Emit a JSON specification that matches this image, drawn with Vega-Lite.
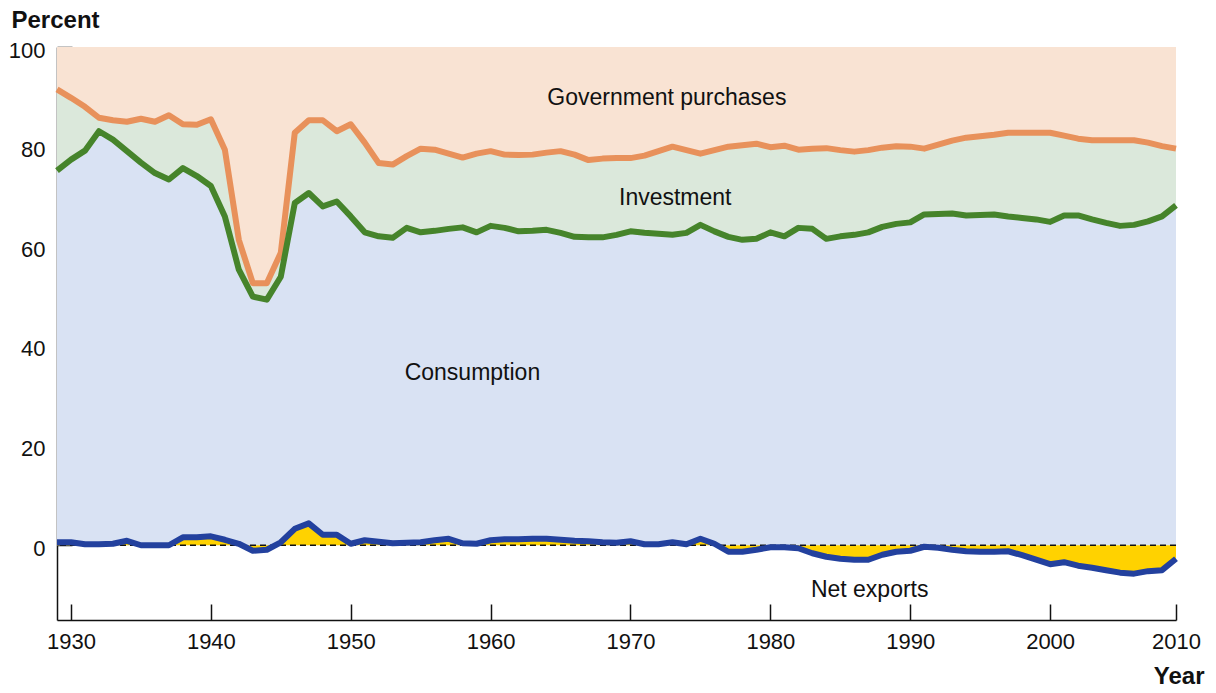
{
  "$schema": "https://vega.github.io/schema/vega-lite/v6.json",
  "width": 1119,
  "height": 573,
  "autosize": {"type": "none"},
  "padding": {"left": 57, "top": 47, "right": 40, "bottom": 73},
  "background": "white",
  "config": {"view": {"stroke": null}, "font": "Liberation Sans"},
  "datasets": {
    "shares": [
      {"Year":1929,"NX":0.6,"CNX":75.2,"CINX":91.5},
      {"Year":1930,"NX":0.6,"CNX":77.4,"CINX":89.8},
      {"Year":1931,"NX":0.2,"CNX":79.2,"CINX":88.0},
      {"Year":1932,"NX":0.2,"CNX":83.1,"CINX":85.8},
      {"Year":1933,"NX":0.3,"CNX":81.4,"CINX":85.3},
      {"Year":1934,"NX":0.9,"CNX":79.1,"CINX":85.0},
      {"Year":1935,"NX":0.0,"CNX":76.8,"CINX":85.6},
      {"Year":1936,"NX":0.0,"CNX":74.7,"CINX":85.0},
      {"Year":1937,"NX":0.0,"CNX":73.4,"CINX":86.3},
      {"Year":1938,"NX":1.6,"CNX":75.7,"CINX":84.5},
      {"Year":1939,"NX":1.6,"CNX":74.1,"CINX":84.4},
      {"Year":1940,"NX":1.8,"CNX":72.1,"CINX":85.5},
      {"Year":1941,"NX":1.1,"CNX":66.0,"CINX":79.4},
      {"Year":1942,"NX":0.3,"CNX":55.3,"CINX":61.3},
      {"Year":1943,"NX":-1.1,"CNX":49.9,"CINX":52.6},
      {"Year":1944,"NX":-0.9,"CNX":49.3,"CINX":52.6},
      {"Year":1945,"NX":0.6,"CNX":53.9,"CINX":58.7},
      {"Year":1946,"NX":3.3,"CNX":68.7,"CINX":82.8},
      {"Year":1947,"NX":4.4,"CNX":70.7,"CINX":85.3},
      {"Year":1948,"NX":2.1,"CNX":68.0,"CINX":85.3},
      {"Year":1949,"NX":2.1,"CNX":69.0,"CINX":83.1},
      {"Year":1950,"NX":0.3,"CNX":66.0,"CINX":84.5},
      {"Year":1951,"NX":1.0,"CNX":62.8,"CINX":80.8},
      {"Year":1952,"NX":0.7,"CNX":62.0,"CINX":76.7},
      {"Year":1953,"NX":0.4,"CNX":61.7,"CINX":76.4},
      {"Year":1954,"NX":0.5,"CNX":63.7,"CINX":78.1},
      {"Year":1955,"NX":0.6,"CNX":62.8,"CINX":79.6},
      {"Year":1956,"NX":1.0,"CNX":63.1,"CINX":79.4},
      {"Year":1957,"NX":1.3,"CNX":63.5,"CINX":78.6},
      {"Year":1958,"NX":0.4,"CNX":63.8,"CINX":77.8},
      {"Year":1959,"NX":0.3,"CNX":62.8,"CINX":78.6},
      {"Year":1960,"NX":1.0,"CNX":64.1,"CINX":79.1},
      {"Year":1961,"NX":1.2,"CNX":63.7,"CINX":78.4},
      {"Year":1962,"NX":1.2,"CNX":63.0,"CINX":78.3},
      {"Year":1963,"NX":1.3,"CNX":63.1,"CINX":78.4},
      {"Year":1964,"NX":1.3,"CNX":63.3,"CINX":78.8},
      {"Year":1965,"NX":1.1,"CNX":62.7,"CINX":79.1},
      {"Year":1966,"NX":0.9,"CNX":61.9,"CINX":78.4},
      {"Year":1967,"NX":0.8,"CNX":61.8,"CINX":77.3},
      {"Year":1968,"NX":0.6,"CNX":61.8,"CINX":77.6},
      {"Year":1969,"NX":0.5,"CNX":62.3,"CINX":77.7},
      {"Year":1970,"NX":0.8,"CNX":63.0,"CINX":77.7},
      {"Year":1971,"NX":0.2,"CNX":62.7,"CINX":78.2},
      {"Year":1972,"NX":0.2,"CNX":62.5,"CINX":79.1},
      {"Year":1973,"NX":0.6,"CNX":62.3,"CINX":80.0},
      {"Year":1974,"NX":0.2,"CNX":62.7,"CINX":79.3},
      {"Year":1975,"NX":1.3,"CNX":64.3,"CINX":78.6},
      {"Year":1976,"NX":0.3,"CNX":63.0,"CINX":79.3},
      {"Year":1977,"NX":-1.3,"CNX":61.9,"CINX":80.0},
      {"Year":1978,"NX":-1.3,"CNX":61.3,"CINX":80.3},
      {"Year":1979,"NX":-0.9,"CNX":61.5,"CINX":80.6},
      {"Year":1980,"NX":-0.4,"CNX":62.8,"CINX":79.9},
      {"Year":1981,"NX":-0.4,"CNX":62.0,"CINX":80.2},
      {"Year":1982,"NX":-0.6,"CNX":63.7,"CINX":79.4},
      {"Year":1983,"NX":-1.6,"CNX":63.5,"CINX":79.6},
      {"Year":1984,"NX":-2.3,"CNX":61.5,"CINX":79.7},
      {"Year":1985,"NX":-2.7,"CNX":62.0,"CINX":79.3},
      {"Year":1986,"NX":-2.9,"CNX":62.3,"CINX":79.0},
      {"Year":1987,"NX":-2.9,"CNX":62.8,"CINX":79.3},
      {"Year":1988,"NX":-1.9,"CNX":63.9,"CINX":79.8},
      {"Year":1989,"NX":-1.3,"CNX":64.5,"CINX":80.1},
      {"Year":1990,"NX":-1.1,"CNX":64.8,"CINX":80.0},
      {"Year":1991,"NX":-0.3,"CNX":66.4,"CINX":79.6},
      {"Year":1992,"NX":-0.5,"CNX":66.5,"CINX":80.4},
      {"Year":1993,"NX":-0.9,"CNX":66.6,"CINX":81.2},
      {"Year":1994,"NX":-1.2,"CNX":66.2,"CINX":81.8},
      {"Year":1995,"NX":-1.3,"CNX":66.3,"CINX":82.1},
      {"Year":1996,"NX":-1.3,"CNX":66.4,"CINX":82.4},
      {"Year":1997,"NX":-1.2,"CNX":66.0,"CINX":82.8},
      {"Year":1998,"NX":-2.0,"CNX":65.7,"CINX":82.8},
      {"Year":1999,"NX":-2.9,"CNX":65.4,"CINX":82.8},
      {"Year":2000,"NX":-3.8,"CNX":64.9,"CINX":82.8},
      {"Year":2001,"NX":-3.4,"CNX":66.2,"CINX":82.2},
      {"Year":2002,"NX":-4.1,"CNX":66.2,"CINX":81.6},
      {"Year":2003,"NX":-4.5,"CNX":65.4,"CINX":81.3},
      {"Year":2004,"NX":-5.0,"CNX":64.7,"CINX":81.3},
      {"Year":2005,"NX":-5.5,"CNX":64.1,"CINX":81.3},
      {"Year":2006,"NX":-5.7,"CNX":64.3,"CINX":81.3},
      {"Year":2007,"NX":-5.2,"CNX":65.0,"CINX":80.8},
      {"Year":2008,"NX":-5.0,"CNX":66.0,"CINX":80.1},
      {"Year":2009,"NX":-2.7,"CNX":68.2,"CINX":79.6}
    ]
  },
  "layer": [
    {
      "data": {"name": "shares"},
      "mark": {"type": "area", "color": "#F9E3D3", "opacity": 1},
      "encoding": {
        "x": {
          "field": "Year", "type": "quantitative",
          "scale": {"domain": [1929, 2009], "nice": false, "zero": false},
          "axis": {
            "values": [1930, 1940, 1950, 1960, 1970, 1980, 1990, 2000, 2009],
            "format": "d",
            "labelExpr": "datum.value == 2009 ? '2010' : datum.label",
            "grid": false,
            "tickSize": -16, "tickWidth": 1.5, "tickColor": "#111",
            "domainColor": "#111", "domainWidth": 1.5,
            "labelFont": "Liberation Sans", "labelFontSize": 22, "labelColor": "#111",
            "labelPadding": 27, "labelFlush": false, "labelOverlap": false,
            "title": "Year", "titleFont": "Liberation Sans", "titleFontWeight": "bold",
            "titleFontSize": 24, "titleColor": "#111",
            "titleAlign": "right", "titleAnchor": "end", "titleBaseline": "alphabetic",
            "titleX": 1147, "titleY": 63
          }
        },
        "y": {
          "field": "CINX", "type": "quantitative",
          "scale": {"domain": [-15, 100], "nice": false, "zero": false},
          "axis": {
            "values": [0, 20, 40, 60, 80, 100],
            "grid": false,
            "tickSize": -15, "tickWidth": 1.5, "tickColor": "#111",
            "domainColor": "#111", "domainWidth": 1.5,
            "labelFont": "Liberation Sans", "labelFontSize": 22, "labelColor": "#111",
            "labelPadding": 27, "labelOffset": 3, "labelFlush": false, "labelOverlap": false,
            "title": "Percent", "titleFont": "Liberation Sans", "titleFontWeight": "bold",
            "titleFontSize": 24, "titleColor": "#111", "titleAngle": 0,
            "titleAlign": "left", "titleBaseline": "alphabetic",
            "titleX": -46, "titleY": -20
          }
        },
        "y2": {"datum": 100}
      }
    },
    {
      "data": {"name": "shares"},
      "mark": {"type": "area", "color": "#DBE8DB", "opacity": 1},
      "encoding": {
        "x": {"field": "Year", "type": "quantitative"},
        "y": {"field": "CINX", "type": "quantitative"},
        "y2": {"field": "CNX"}
      }
    },
    {
      "data": {"name": "shares"},
      "mark": {"type": "area", "color": "#D9E2F3", "opacity": 1},
      "encoding": {
        "x": {"field": "Year", "type": "quantitative"},
        "y": {"field": "CNX", "type": "quantitative"},
        "y2": {"datum": 0}
      }
    },
    {
      "data": {"name": "shares"},
      "mark": {"type": "area", "color": "#FFD200", "opacity": 1},
      "encoding": {
        "x": {"field": "Year", "type": "quantitative"},
        "y": {"field": "NX", "type": "quantitative"},
        "y2": {"datum": 0}
      }
    },
    {
      "data": {"values": [{"level": 0}]},
      "mark": {"type": "rule", "color": "#111", "strokeWidth": 1.5, "strokeDash": [6, 4]},
      "encoding": {"y": {"field": "level", "type": "quantitative"}}
    },
    {
      "data": {"name": "shares"},
      "mark": {"type": "line", "color": "#E8915B", "strokeWidth": 6, "strokeJoin": "round"},
      "encoding": {
        "x": {"field": "Year", "type": "quantitative"},
        "y": {"field": "CINX", "type": "quantitative"}
      }
    },
    {
      "data": {"name": "shares"},
      "mark": {"type": "line", "color": "#46842B", "strokeWidth": 6, "strokeJoin": "round"},
      "encoding": {
        "x": {"field": "Year", "type": "quantitative"},
        "y": {"field": "CNX", "type": "quantitative"}
      }
    },
    {
      "data": {"name": "shares"},
      "mark": {"type": "line", "color": "#23419E", "strokeWidth": 6, "strokeJoin": "round"},
      "encoding": {
        "x": {"field": "Year", "type": "quantitative"},
        "y": {"field": "NX", "type": "quantitative"}
      }
    },
    {
      "data": {"values": [{"label": "Government purchases"}]},
      "mark": {"type": "text", "font": "Liberation Sans", "fontSize": 23, "color": "#111", "align": "center", "baseline": "alphabetic"},
      "encoding": {"x": {"datum": 1972.6}, "y": {"datum": 88.4}, "text": {"field": "label"}}
    },
    {
      "data": {"values": [{"label": "Investment"}]},
      "mark": {"type": "text", "font": "Liberation Sans", "fontSize": 23, "color": "#111", "align": "center", "baseline": "alphabetic"},
      "encoding": {"x": {"datum": 1973.2}, "y": {"datum": 68.2}, "text": {"field": "label"}}
    },
    {
      "data": {"values": [{"label": "Consumption"}]},
      "mark": {"type": "text", "font": "Liberation Sans", "fontSize": 23, "color": "#111", "align": "center", "baseline": "alphabetic"},
      "encoding": {"x": {"datum": 1958.7}, "y": {"datum": 33.2}, "text": {"field": "label"}}
    },
    {
      "data": {"values": [{"label": "Net exports"}]},
      "mark": {"type": "text", "font": "Liberation Sans", "fontSize": 23, "color": "#111", "align": "center", "baseline": "alphabetic"},
      "encoding": {"x": {"datum": 1987.1}, "y": {"datum": -10.3}, "text": {"field": "label"}}
    }
  ]
}
